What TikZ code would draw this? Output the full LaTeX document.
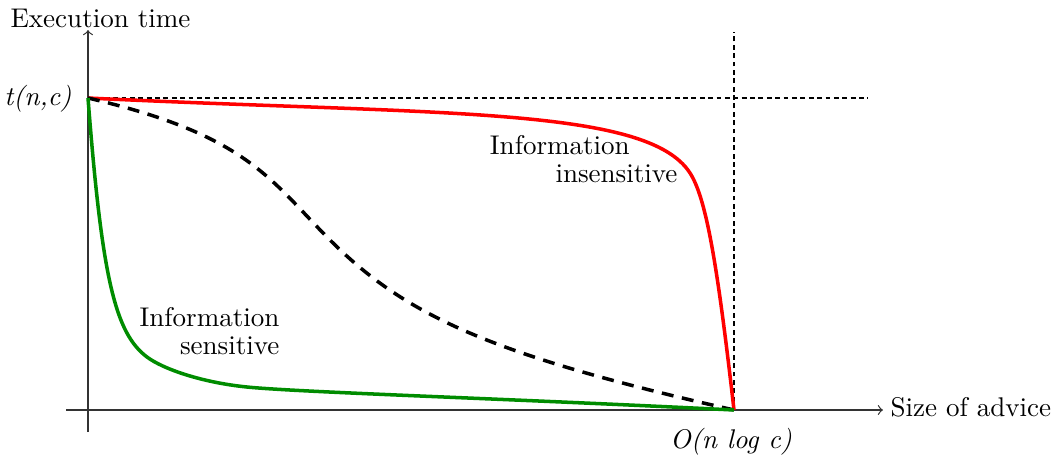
\documentclass[tikz,border=0pt]{standalone}
\usepackage{xcolor}
\usepackage{tikz}
\usetikzlibrary{arrows,positioning}
\definecolor{sensgreen}{RGB}{0,140,0}

\begin{document}
\begin{tikzpicture}[
        x=0.013cm, y=-0.013cm,
        axis/.style={line width=0.45pt, black!80, ->, >=to},
        guide/.style={line width=0.4pt, dash pattern=on 1.8pt off 1.3pt},
        curve/.style={line width=1.3pt},
        lbl/.style={inner sep=0pt, align=right, font=\fontsize{10pt}{10pt}\selectfont}
    ]
        \useasboundingbox (0,0) rectangle (1060,457);

        % Key points
        \coordinate (origin) at (88,410);
        \coordinate (top) at (88,98);
        \coordinate (bound) at (734,410);
        \coordinate (ytip) at (88,30);
        \coordinate (ybot) at (88,432);
        \coordinate (xtip) at (883,410);
        \coordinate (xleft) at (66,410);
        \coordinate (hend) at (868,98);
        \coordinate (vtop) at (734,32);

        % Axes and guide lines
        \draw[axis] (ybot) -- (ytip);
        \draw[axis] (xleft) -- (xtip);
        \draw[guide] (top) -- (hend);
        \draw[guide] (bound) -- (vtop);

        % Curves
        \draw[curve, red] (top) .. controls (438,115) and (647,106) .. (690,173)
            .. controls (706,198) and (717,261) .. (bound);
        \draw[curve, dash pattern=on 4.4pt off 3.2pt] (top) .. controls (248,135) and (270,180) .. (330,240)
            .. controls (405,315) and (490,355) .. (bound);
        \draw[curve, sensgreen] (top) .. controls (102,278) and (115,333) .. (147,357)
            .. controls (163,369) and (202,382.5) .. (247,387)
            .. controls (300,392.3) and (500,398.3) .. (bound);

        % Labels
        \node[lbl, anchor=base west] (ytitle) at (10,27) {Execution time};
        \node[lbl, anchor=base east] (tnc) at (72,105) {\textit{t(n,c)}};
        \node[lbl, anchor=base] (nlogc) at (731,448) {\textit{O(n log c)}};
        \node[lbl, anchor=base west] (xtitle) at (890,416) {Size of advice};
        \node[lbl, anchor=base east] (insens) at (678,182) {Information\hspace*{0.62cm}\\insensitive};
        \node[lbl, anchor=base east] (sens) at (280,354) {Information\\sensitive};
    \end{tikzpicture}
\end{document}
